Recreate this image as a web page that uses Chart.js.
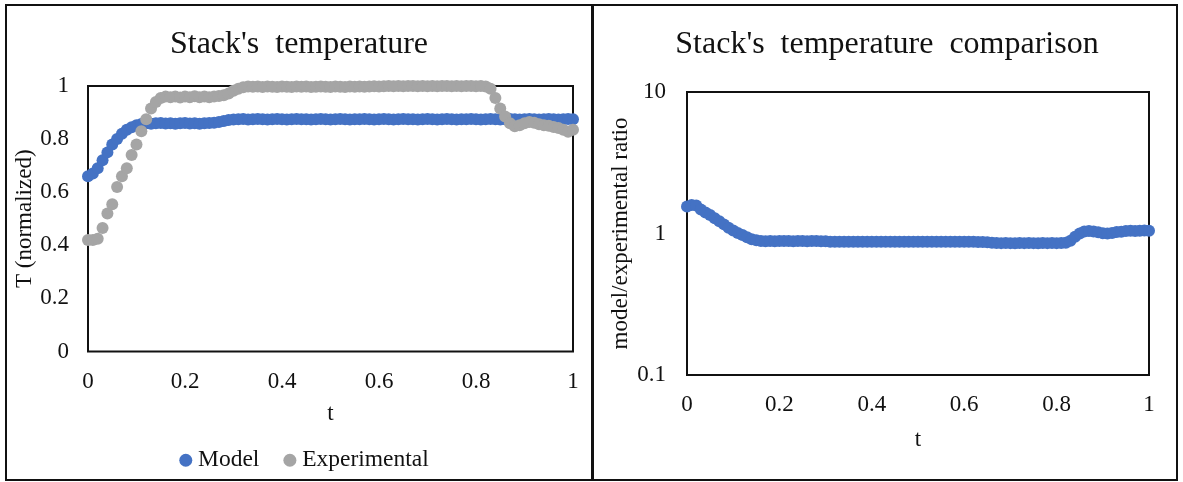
<!DOCTYPE html>
<html>
<head>
<meta charset="utf-8">
<script src="https://cdn.jsdelivr.net/npm/chart.js@4.4.0/dist/chart.umd.min.js"></script>
<style>
  html, body { margin: 0; padding: 0; background: #fff; }
  body { width: 1183px; height: 482px; position: relative; overflow: hidden; }
  .panel { position: absolute; top: 0; height: 482px; }
  #leftPanel { left: 0; width: 592px; }
  #rightPanel { left: 592px; width: 591px; }
  .frame { position: absolute; left: 5px; top: 4px; width: 1169px; height: 473px; border: 2px solid #111; pointer-events: none; }
  .divider { position: absolute; left: 591px; top: 4px; width: 3px; height: 477px; background: #111; }
</style>
</head>
<body>
<div class="panel" id="leftPanel"><canvas id="tempChart"></canvas></div>
<div class="panel" id="rightPanel"><canvas id="ratioChart"></canvas></div>
<div class="frame"></div>
<div class="divider"></div>
<script>
// time, normalized (0..1)
const tValues = [
  0.00, 0.01, 0.02, 0.03, 0.04, 0.05, 0.06, 0.07, 0.08, 0.09,
  0.10, 0.11, 0.12, 0.13, 0.14, 0.15, 0.16, 0.17, 0.18, 0.19,
  0.20, 0.21, 0.22, 0.23, 0.24, 0.25, 0.26, 0.27, 0.28, 0.29,
  0.30, 0.31, 0.32, 0.33, 0.34, 0.35, 0.36, 0.37, 0.38, 0.39,
  0.40, 0.41, 0.42, 0.43, 0.44, 0.45, 0.46, 0.47, 0.48, 0.49,
  0.50, 0.51, 0.52, 0.53, 0.54, 0.55, 0.56, 0.57, 0.58, 0.59,
  0.60, 0.61, 0.62, 0.63, 0.64, 0.65, 0.66, 0.67, 0.68, 0.69,
  0.70, 0.71, 0.72, 0.73, 0.74, 0.75, 0.76, 0.77, 0.78, 0.79,
  0.80, 0.81, 0.82, 0.83, 0.84, 0.85, 0.86, 0.87, 0.88, 0.89,
  0.90, 0.91, 0.92, 0.93, 0.94, 0.95, 0.96, 0.97, 0.98, 0.99,
  1.00
];

// stack temperature, model
const modelT = [
  0.660, 0.670, 0.690, 0.720, 0.750, 0.780, 0.800, 0.820, 0.835, 0.845,
  0.852, 0.857, 0.860, 0.858, 0.860, 0.861, 0.859, 0.860, 0.858, 0.860,
  0.861, 0.859, 0.860, 0.858, 0.860, 0.861, 0.862, 0.864, 0.868, 0.872,
  0.874, 0.875, 0.876, 0.874, 0.875, 0.876, 0.875, 0.874, 0.875, 0.876,
  0.875, 0.874, 0.875, 0.876, 0.875, 0.875, 0.874, 0.875, 0.876, 0.875,
  0.874, 0.875, 0.876, 0.875, 0.874, 0.875, 0.875, 0.876, 0.875, 0.874,
  0.875, 0.876, 0.875, 0.874, 0.875, 0.876, 0.875, 0.875, 0.874, 0.875,
  0.876, 0.875, 0.874, 0.875, 0.876, 0.875, 0.874, 0.875, 0.875, 0.876,
  0.875, 0.874, 0.875, 0.876, 0.875, 0.874, 0.875, 0.876, 0.875, 0.874,
  0.875, 0.876, 0.875, 0.874, 0.875, 0.876, 0.875, 0.874, 0.875, 0.876,
  0.875
];

// stack temperature, experimental
const experimentalT = [
  0.420, 0.420, 0.425, 0.465, 0.520, 0.555, 0.620, 0.660, 0.690, 0.740,
  0.780, 0.830, 0.875, 0.915, 0.940, 0.955, 0.960, 0.958, 0.960, 0.957,
  0.960, 0.958, 0.961, 0.958, 0.960, 0.958, 0.960, 0.962, 0.965, 0.972,
  0.982, 0.990, 0.995, 0.998, 0.997, 0.998, 0.996, 0.998, 0.997, 0.996,
  0.998, 0.997, 0.996, 0.998, 0.997, 0.998, 0.996, 0.997, 0.998, 0.997,
  0.996, 0.998, 0.997, 0.996, 0.998, 0.997, 0.998, 0.997, 0.998, 0.999,
  0.998, 0.999, 1.000, 0.999, 1.000, 0.999, 1.000, 1.000, 0.999, 1.000,
  0.999, 1.000, 0.999, 1.000, 1.000, 0.999, 1.000, 0.999, 1.000, 1.000,
  0.999, 1.000, 0.998, 0.990, 0.955, 0.915, 0.885, 0.860, 0.848, 0.852,
  0.860, 0.864, 0.862, 0.856, 0.852, 0.850, 0.846, 0.842, 0.835, 0.828,
  0.835
];

// model / experimental ratio
const ratio = [
  1.550, 1.590, 1.580, 1.480, 1.410, 1.350, 1.280, 1.220, 1.160, 1.100,
  1.050, 1.010, 0.975, 0.940, 0.910, 0.895, 0.885, 0.880, 0.885, 0.882,
  0.886, 0.884, 0.885, 0.882, 0.886, 0.885, 0.883, 0.886, 0.884, 0.882,
  0.880, 0.876, 0.874, 0.875, 0.873, 0.875, 0.876, 0.874, 0.875, 0.873,
  0.875, 0.876, 0.874, 0.875, 0.873, 0.875, 0.876, 0.874, 0.875, 0.873,
  0.875, 0.876, 0.874, 0.875, 0.873, 0.875, 0.876, 0.874, 0.875, 0.873,
  0.875, 0.874, 0.873, 0.872, 0.870, 0.866, 0.860, 0.856, 0.855, 0.857,
  0.855, 0.854, 0.856, 0.855, 0.857, 0.855, 0.854, 0.856, 0.855, 0.857,
  0.855, 0.856, 0.860, 0.890, 0.950, 1.000, 1.035, 1.040, 1.035, 1.020,
  1.005, 1.000, 1.010, 1.025, 1.030, 1.040, 1.045, 1.040, 1.045, 1.050,
  1.045
];

const xTicks = [0, 0.2, 0.4, 0.6, 0.8, 1];
const tempTicks = [0, 0.2, 0.4, 0.6, 0.8, 1];
const ratioTicks = [0.1, 1, 10];

const BLUE = '#4472C4';
const GRAY = '#A5A5A5';
const INK = '#111';

Chart.defaults.font.family = "'Liberation Serif', 'Times New Roman', serif";
Chart.defaults.font.size = 23;
Chart.defaults.color = INK;

function pts(ys) {
  return tValues.map((t, i) => ({ x: t, y: ys[i] }));
}

// black box round the plot area, drawn under the markers
const plotFrame = {
  id: 'plotFrame',
  beforeDatasetsDraw(chart) {
    const { ctx, chartArea: a } = chart;
    ctx.save();
    ctx.strokeStyle = INK;
    ctx.lineWidth = 2;
    ctx.strokeRect(a.left, a.top, a.right - a.left, a.bottom - a.top);
    ctx.restore();
  }
};

// nudge the legend row a little to the right, like the original
const legendNudge = {
  id: 'legendNudge',
  afterLayout(chart) {
    if (chart.legend) {
      chart.legend.left += 8;
      chart.legend.right += 8;
    }
  }
};

function markerSet(label, ys, color, order) {
  return {
    label: label,
    data: pts(ys),
    backgroundColor: color,
    pointBackgroundColor: color,
    borderColor: color,
    pointBorderWidth: 0,
    borderWidth: 0,
    pointRadius: 6,
    pointHoverRadius: 6,
    showLine: false,
    clip: false,
    order: order
  };
}

function fixedTicks(values) {
  return scale => { scale.ticks = values.map(v => ({ value: v })); };
}

// invisible tick marks, used only as a gap between the axis and its labels
function gapGrid(len) {
  return { display: true, drawOnChartArea: false, drawTicks: true, tickLength: len, color: 'rgba(0,0,0,0)' };
}

new Chart(document.getElementById('tempChart'), {
  type: 'scatter',
  data: {
    datasets: [
      markerSet('Model', modelT, BLUE, 1),
      markerSet('Experimental', experimentalT, GRAY, 0)
    ]
  },
  options: {
    responsive: true,
    maintainAspectRatio: false,
    animation: false,
    layout: { padding: { left: 6, right: 0, top: 0, bottom: 0 } },
    plugins: {
      title: {
        display: true,
        text: "Stack's  temperature",
        font: { size: 32, weight: 'normal' },
        color: INK,
        padding: { top: 25.8, bottom: 21.8 }
      },
      legend: {
        position: 'bottom',
        labels: {
          usePointStyle: true,
          pointStyle: 'circle',
          boxWidth: 1,
          boxHeight: 9.2,
          padding: 30,
          font: { size: 23.5 },
          color: INK,
          sort: (a, b) => a.datasetIndex - b.datasetIndex
        }
      },
      tooltip: { enabled: false }
    },
    scales: {
      x: {
        type: 'linear',
        min: 0,
        max: 1,
        afterBuildTicks: fixedTicks(xTicks),
        ticks: { padding: 3, maxRotation: 0, callback: v => String(v) },
        grid: gapGrid(14),
        border: { display: false },
        title: { display: true, text: 't', padding: { top: 0, bottom: -8.8 } },
        afterFit: s => { s.height = 67; }
      },
      y: {
        type: 'linear',
        min: 0,
        max: 1,
        afterBuildTicks: fixedTicks(tempTicks),
        ticks: { padding: 3, callback: v => String(v) },
        grid: gapGrid(16),
        border: { display: false },
        title: { display: true, text: 'T (normalized)', padding: { top: 5.2, bottom: 0 } },
        afterFit: s => { s.width = 82; }
      },
      yr: {
        type: 'linear',
        axis: 'y',
        position: 'right',
        ticks: { display: false },
        grid: { display: false, drawTicks: false },
        border: { display: false },
        afterFit: s => { s.width = 19; }
      }
    }
  },
  plugins: [plotFrame, legendNudge]
});

new Chart(document.getElementById('ratioChart'), {
  type: 'scatter',
  data: {
    datasets: [markerSet('model/experimental', ratio, BLUE, 0)]
  },
  options: {
    responsive: true,
    maintainAspectRatio: false,
    animation: false,
    layout: { padding: { left: 0, right: 1, top: 0, bottom: 0 } },
    plugins: {
      title: {
        display: true,
        text: "Stack's  temperature  comparison",
        font: { size: 32, weight: 'normal' },
        color: INK,
        padding: { top: 25.8, bottom: 27.8 }
      },
      legend: { display: false },
      tooltip: { enabled: false }
    },
    scales: {
      x: {
        type: 'linear',
        min: 0,
        max: 1,
        afterBuildTicks: fixedTicks(xTicks),
        ticks: { padding: 3, maxRotation: 0, callback: v => String(v) },
        grid: gapGrid(13.2),
        border: { display: false },
        title: { display: true, text: 't', padding: { top: 0, bottom: 28.2 } },
        afterFit: s => { s.height = 107; }
      },
      y: {
        type: 'logarithmic',
        min: 0.1,
        max: 10,
        afterBuildTicks: fixedTicks(ratioTicks),
        ticks: { padding: 3, callback: v => String(v) },
        grid: gapGrid(18),
        border: { display: false },
        title: { display: true, text: 'model/experimental ratio', padding: { top: 14.7, bottom: 0 } },
        afterFit: s => { s.width = 95; }
      },
      yr: {
        type: 'linear',
        axis: 'y',
        position: 'right',
        ticks: { display: false },
        grid: { display: false, drawTicks: false },
        border: { display: false },
        afterFit: s => { s.width = 33; }
      }
    }
  },
  plugins: [plotFrame]
});
</script>
</body>
</html>
